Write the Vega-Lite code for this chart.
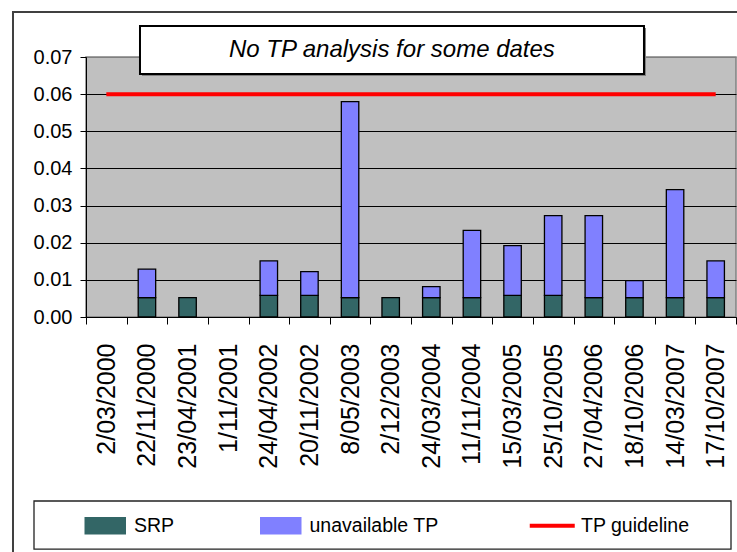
{
  "$schema": "https://vega.github.io/schema/vega-lite/v6.json",
  "width": 650,
  "height": 260,
  "autosize": "none",
  "padding": {"left": 86, "top": 57, "right": 1, "bottom": 235},
  "background": "#FFFFFF",
  "config": {
    "view": {"fill": "#C0C0C0", "stroke": "#808080", "strokeWidth": 1.5},
    "axis": {"domainColor": "#000000", "tickColor": "#000000", "labelColor": "#000000", "titleColor": "#000000"}
  },
  "datasets": {
    "bars": [
      {"date": "2/03/2000", "series": "SRP", "value": null},
      {"date": "2/03/2000", "series": "unavailable TP", "value": null},
      {"date": "22/11/2000", "series": "SRP", "value": 0.0052},
      {"date": "22/11/2000", "series": "unavailable TP", "value": 0.0077},
      {"date": "23/04/2001", "series": "SRP", "value": 0.0052},
      {"date": "23/04/2001", "series": "unavailable TP", "value": null},
      {"date": "1/11/2001", "series": "SRP", "value": null},
      {"date": "1/11/2001", "series": "unavailable TP", "value": null},
      {"date": "24/04/2002", "series": "SRP", "value": 0.0058},
      {"date": "24/04/2002", "series": "unavailable TP", "value": 0.0093},
      {"date": "20/11/2002", "series": "SRP", "value": 0.0058},
      {"date": "20/11/2002", "series": "unavailable TP", "value": 0.0064},
      {"date": "8/05/2003", "series": "SRP", "value": 0.0052},
      {"date": "8/05/2003", "series": "unavailable TP", "value": 0.0528},
      {"date": "2/12/2003", "series": "SRP", "value": 0.0052},
      {"date": "2/12/2003", "series": "unavailable TP", "value": null},
      {"date": "24/03/2004", "series": "SRP", "value": 0.0052},
      {"date": "24/03/2004", "series": "unavailable TP", "value": 0.003},
      {"date": "11/11/2004", "series": "SRP", "value": 0.0052},
      {"date": "11/11/2004", "series": "unavailable TP", "value": 0.0181},
      {"date": "15/03/2005", "series": "SRP", "value": 0.0058},
      {"date": "15/03/2005", "series": "unavailable TP", "value": 0.0134},
      {"date": "25/10/2005", "series": "SRP", "value": 0.0058},
      {"date": "25/10/2005", "series": "unavailable TP", "value": 0.0215},
      {"date": "27/04/2006", "series": "SRP", "value": 0.0052},
      {"date": "27/04/2006", "series": "unavailable TP", "value": 0.0221},
      {"date": "18/10/2006", "series": "SRP", "value": 0.0052},
      {"date": "18/10/2006", "series": "unavailable TP", "value": 0.0046},
      {"date": "14/03/2007", "series": "SRP", "value": 0.0052},
      {"date": "14/03/2007", "series": "unavailable TP", "value": 0.0291},
      {"date": "17/10/2007", "series": "SRP", "value": 0.0052},
      {"date": "17/10/2007", "series": "unavailable TP", "value": 0.0099}
    ],
    "guideline": [
      {"date": "2/03/2000", "guideline": 0.06},
      {"date": "17/10/2007", "guideline": 0.06}
    ],
    "frame": [
      {"x1": -1.797, "x2": 16.1, "y1": 0.08212, "y2": -0.0641}
    ],
    "legendbox": [
      {"x1": -1.28, "x2": 15.877, "y1": -0.04954, "y2": -0.06247}
    ],
    "note": [
      {"x1": 1.329, "x2": 13.735, "y1": 0.07835, "y2": 0.06543, "xc": 7.53, "yc": 0.0719, "note": "No TP analysis for some dates"}
    ]
  },
  "layer": [
    {
      "data": {"name": "frame"},
      "mark": {"type": "rect", "fill": null, "fillOpacity": 0, "stroke": "#404040", "strokeWidth": 2},
      "encoding": {
        "x": {"field": "x1", "type": "quantitative", "scale": {"domain": [0, 16], "nice": false, "zero": false}, "axis": null},
        "x2": {"field": "x2"},
        "y": {"field": "y1", "type": "quantitative", "scale": {"domain": [0, 0.07], "nice": false, "zero": false}, "axis": null},
        "y2": {"field": "y2"}
      }
    },
    {
      "data": {"name": "legendbox"},
      "mark": {"type": "rect", "fill": "#FFFFFF", "stroke": "#222222", "strokeWidth": 1.3},
      "encoding": {
        "x": {"field": "x1", "type": "quantitative", "scale": {"domain": [0, 16], "nice": false, "zero": false}, "axis": null},
        "x2": {"field": "x2"},
        "y": {"field": "y1", "type": "quantitative", "scale": {"domain": [0, 0.07], "nice": false, "zero": false}, "axis": null},
        "y2": {"field": "y2"}
      }
    },
    {
      "layer": [
        {
          "data": {"name": "bars"},
          "mark": {"type": "bar", "stroke": "#000000", "strokeWidth": 1.3, "width": {"band": 0.43}},
          "encoding": {
            "x": {
              "field": "date", "type": "nominal",
              "scale": {"domain": ["2/03/2000", "22/11/2000", "23/04/2001", "1/11/2001", "24/04/2002", "20/11/2002", "8/05/2003", "2/12/2003", "24/03/2004", "11/11/2004", "15/03/2005", "25/10/2005", "27/04/2006", "18/10/2006", "14/03/2007", "17/10/2007"], "paddingInner": 0, "paddingOuter": 0},
              "axis": {"title": null, "labelAngle": 270, "labelAlign": "right", "labelBaseline": "middle", "labelFont": "Liberation Sans", "labelFontSize": 25, "labelPadding": 19, "tickSize": 7, "tickBand": "extent", "tickColor": "#000000", "domainColor": "#000000", "labelOverlap": false, "grid": false}
            },
            "y": {
              "field": "value", "type": "quantitative", "stack": "zero",
              "scale": {"domain": [0, 0.07], "nice": false, "zero": true},
              "axis": {"title": null, "values": [0, 0.01, 0.02, 0.03, 0.04, 0.05, 0.06, 0.07], "format": ".2f", "labelFont": "Liberation Sans", "labelFontSize": 20, "labelPadding": 8, "tickSize": 6, "labelOverlap": false, "grid": true, "gridColor": {"condition": {"test": "datum.value >= 0.07", "value": "#808080"}, "value": "#000000"}, "gridWidth": 1, "gridOpacity": 1}
            },
            "color": {
              "field": "series", "type": "nominal",
              "scale": {"domain": ["SRP", "unavailable TP", "TP guideline"], "range": ["#336666", "#8080FF", "#FF0000"]},
              "legend": {
                "title": null, "orient": "none", "legendX": 9.5, "legendY": 459, "direction": "horizontal", "columns": 3,
                "gridAlign": "none", "columnPadding": 82.5, "padding": 0,
                "labelFont": "Liberation Sans", "labelFontSize": 19.5, "labelColor": "#000000", "labelOffset": 19, "labelLimit": 300,
                "symbolType": "M-2,-0.8H2V0.8H-2Z",
                "symbolSize": 400, "symbolStrokeWidth": 1.5, "symbolStrokeColor": "#000000",
                "encode": {
                  "symbols": {
                    "update": {
                      "shape": {"signal": "datum.value === 'TP guideline' ? 'M-2.25,0H2.25' : 'M-2,-0.8H2V0.8H-2Z'"},
                      "fill": {"signal": "datum.value === 'TP guideline' ? 'transparent' : (datum.value === 'SRP' ? '#336666' : '#8080FF')"},
                      "stroke": {"signal": "datum.value === 'TP guideline' ? '#FF0000' : '#000000'"},
                      "strokeWidth": {"signal": "datum.value === 'TP guideline' ? 4 : 1.5"},
                      "size": {"value": 400},
                      "opacity": {"value": 1}
                    }
                  }
                }
              }
            },
            "order": {"field": "series", "sort": "ascending"}
          }
        },
        {
          "data": {"name": "guideline"},
          "mark": {"type": "line", "color": "#FF0000", "strokeWidth": 4},
          "encoding": {
            "x": {"field": "date", "type": "nominal"},
            "y": {
              "field": "guideline", "type": "quantitative",
              "axis": {"title": null, "values": [0, 0.01, 0.02, 0.03, 0.04, 0.05, 0.06, 0.07], "format": ".2f", "labelFont": "Liberation Sans", "labelFontSize": 20, "labelPadding": 8, "tickSize": 6, "labelOverlap": false, "grid": true, "gridColor": {"condition": {"test": "datum.value >= 0.07", "value": "#808080"}, "value": "#000000"}, "gridWidth": 1, "gridOpacity": 1}
            },
            "color": {"datum": "TP guideline", "legend": null}
          }
        }
      ]
    },
    {
      "data": {"name": "note"},
      "mark": {"type": "rect", "fill": "#808080", "xOffset": 2, "x2Offset": 2, "yOffset": 2, "y2Offset": 2},
      "encoding": {
        "x": {"field": "x1", "type": "quantitative", "scale": {"domain": [0, 16], "nice": false, "zero": false}, "axis": null},
        "x2": {"field": "x2"},
        "y": {"field": "y1", "type": "quantitative", "scale": {"domain": [0, 0.07], "nice": false, "zero": false}, "axis": null},
        "y2": {"field": "y2"}
      }
    },
    {
      "data": {"name": "note"},
      "mark": {"type": "rect", "fill": "#FFFFFF", "stroke": "#000000", "strokeWidth": 2},
      "encoding": {
        "x": {"field": "x1", "type": "quantitative", "scale": {"domain": [0, 16], "nice": false, "zero": false}, "axis": null},
        "x2": {"field": "x2"},
        "y": {"field": "y1", "type": "quantitative", "scale": {"domain": [0, 0.07], "nice": false, "zero": false}, "axis": null},
        "y2": {"field": "y2"}
      }
    },
    {
      "data": {"name": "note"},
      "mark": {"type": "text", "font": "Liberation Sans", "fontStyle": "italic", "fontSize": 24, "color": "#000000", "align": "center", "baseline": "middle"},
      "encoding": {
        "x": {"field": "xc", "type": "quantitative", "scale": {"domain": [0, 16], "nice": false, "zero": false}, "axis": null},
        "y": {"field": "yc", "type": "quantitative", "scale": {"domain": [0, 0.07], "nice": false, "zero": false}, "axis": null},
        "text": {"field": "note", "type": "nominal"}
      }
    }
  ],
  "resolve": {"scale": {"x": "independent", "y": "independent"}, "axis": {"x": "independent", "y": "independent"}}
}
